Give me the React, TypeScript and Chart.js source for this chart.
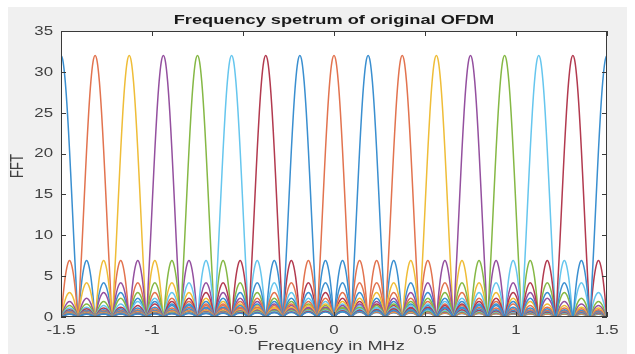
import React, { useEffect, useRef } from "react";
import { Chart, registerables } from "chart.js";

Chart.register(...registerables);

// Subcarrier centre frequencies (MHz)
const subcarrierCenters = [
  -1.5, -1.3125, -1.125, -0.9375, -0.75, -0.5625, -0.375, -0.1875, 0,
  0.1875, 0.375, 0.5625, 0.75, 0.9375, 1.125, 1.3125, 1.5,
];
// Colour of each subcarrier curve as seen in the picture
const subcarrierColors = [
  "#3a8fd0", "#e2734f", "#efbd38", "#94509f", "#85b845", "#66c6ee", "#b23a4f",
  "#3a8fd0", "#e2734f", "#3a8fd0", "#e2734f", "#efbd38", "#94509f", "#85b845",
  "#66c6ee", "#b23a4f", "#3a8fd0",
];
const nullSpacing = 0.09375; // MHz between successive zeros of one curve
// Main lobe magnitude, from the peak to the first zero, in eighths of a null spacing
const mainLobeHalf = [32, 31.2, 28.8, 25.1, 20.4, 15.1, 9.6, 4.5, 0];
// Height of successive side lobes (1st, 2nd, ...)
const sidelobePeaks = [
  6.9, 4.2, 3.0, 2.3, 1.9, 1.6, 1.4, 1.2, 1.1, 1.0, 0.9, 0.82, 0.76, 0.71, 0.66,
  0.62, 0.58, 0.55, 0.52, 0.5, 0.47, 0.45, 0.43, 0.42, 0.4, 0.38, 0.37, 0.36,
  0.35, 0.34, 0.33, 0.32,
];
// Shape of one side lobe, fraction of its height, in eighths of a null spacing
const lobeShape = [0, 0.38, 0.71, 0.92, 1, 0.92, 0.71, 0.38];

const xTicks = [-1.5, -1, -0.5, 0, 0.5, 1, 1.5];
const xTickLabels = ["-1.5", "-1", "-0.5", "0", "0.5", "1", "1.5"];
const yTicks = [0, 5, 10, 15, 20, 25, 30, 35];
const yTickLabels = ["0", "5", "10", "15", "20", "25", "30", "35"];

const titleText = "Frequency spetrum of original OFDM";
const xLabelText = "Frequency in MHz";
const yLabelText = "FFT";

function buildProfile(): { o: number; v: number }[] {
  const half: { o: number; v: number }[] = [];
  mainLobeHalf.forEach((v, j) => half.push({ o: j / 8, v }));
  sidelobePeaks.forEach((p, k) => {
    lobeShape.forEach((s, j) => {
      if (j === 0) return;
      half.push({ o: 1 + k + j / 8, v: p * s });
    });
    half.push({ o: 2 + k, v: 0 });
  });
  const full: { o: number; v: number }[] = [];
  for (let i = half.length - 1; i > 0; i--) full.push({ o: -half[i].o, v: half[i].v });
  half.forEach((p) => full.push(p));
  return full;
}

const STRETCH = 1.4;
const FONT = "'Liberation Sans', Arial, Helvetica, sans-serif";

const matlabPlugin = {
  id: "matlabAxes",
  beforeDraw(chart: any) {
    const { ctx, chartArea } = chart;
    ctx.save();
    ctx.fillStyle = "#ffffff";
    ctx.fillRect(0, 0, chart.width, chart.height);
    ctx.fillStyle = "#f0f0f0";
    ctx.fillRect(8, 7, 619, 347);
    ctx.fillStyle = "#ffffff";
    ctx.fillRect(chartArea.left, chartArea.top, chartArea.right - chartArea.left, chartArea.bottom - chartArea.top);
    ctx.restore();
  },
  afterDraw(chart: any) {
    const { ctx, chartArea, scales } = chart;
    const xs = scales.x;
    const ys = scales.y;
    const { left, right, top, bottom } = chartArea;
    ctx.save();
    ctx.strokeStyle = "#3a3a3a";
    ctx.lineWidth = 1;
    ctx.strokeRect(left + 0.5, top + 0.5, right - left - 1, bottom - top - 1);
    const tl = 5;
    ctx.beginPath();
    xTicks.forEach((t) => {
      const px = Math.round(xs.getPixelForValue(t)) + 0.5;
      ctx.moveTo(px, bottom);
      ctx.lineTo(px, bottom - tl);
      ctx.moveTo(px, top);
      ctx.lineTo(px, top + tl);
    });
    yTicks.forEach((t) => {
      const py = Math.round(ys.getPixelForValue(t)) + 0.5;
      ctx.moveTo(left, py);
      ctx.lineTo(left + tl, py);
      ctx.moveTo(right, py);
      ctx.lineTo(right - tl, py);
    });
    ctx.stroke();

    const drawText = (text: string, x: number, y: number, font: string, align: CanvasTextAlign, baseline: CanvasTextBaseline, color: string) => {
      ctx.save();
      ctx.translate(x, y);
      ctx.scale(STRETCH, 1);
      ctx.font = font;
      ctx.textAlign = align;
      ctx.textBaseline = baseline;
      ctx.fillStyle = color;
      ctx.fillText(text, 0, 0);
      ctx.restore();
    };

    xTicks.forEach((t, i) => {
      drawText(xTickLabels[i], xs.getPixelForValue(t), 334, `12px ${FONT}`, "center", "alphabetic", "#404040");
    });
    yTicks.forEach((t, i) => {
      drawText(yTickLabels[i], left - 8, ys.getPixelForValue(t) + 0.5, `12px ${FONT}`, "right", "middle", "#404040");
    });
    drawText(titleText, (left + right) / 2, 24, `bold 13px ${FONT}`, "center", "alphabetic", "#1a1a1a");
    drawText(xLabelText, (left + right) / 2 - 3, 350, `13px ${FONT}`, "center", "alphabetic", "#404040");

    ctx.save();
    ctx.translate(18, (top + bottom) / 2 - 8);
    ctx.scale(STRETCH, 1);
    ctx.rotate(-Math.PI / 2);
    ctx.font = `13px ${FONT}`;
    ctx.textAlign = "center";
    ctx.textBaseline = "middle";
    ctx.fillStyle = "#404040";
    ctx.fillText(yLabelText, 0, 0);
    ctx.restore();

    ctx.restore();
  },
};

export default function App() {
  const canvasRef = useRef<HTMLCanvasElement | null>(null);

  useEffect(() => {
    if (!canvasRef.current) return;
    const profile = buildProfile();
    const datasets = subcarrierCenters.map((c, i) => ({
      label: `Subcarrier ${i + 1}`,
      data: profile
        .map((p) => ({ x: c + p.o * nullSpacing, y: p.v }))
        .filter((p) => p.x >= -1.6 && p.x <= 1.6),
      borderColor: subcarrierColors[i],
      borderWidth: 1.5,
      pointRadius: 0,
      fill: false,
      tension: 0.3,
      order: subcarrierCenters.length - i,
    }));

    const chart = new Chart(canvasRef.current, {
      type: "line",
      data: { datasets },
      options: {
        animation: false,
        responsive: false,
        devicePixelRatio: 1,
        parsing: false as any,
        layout: { padding: { left: 61, top: 31, right: 28, bottom: 37 } },
        plugins: { legend: { display: false }, tooltip: { enabled: false }, title: { display: false } },
        scales: {
          x: { type: "linear", min: -1.5, max: 1.5, display: false },
          y: { type: "linear", min: 0, max: 35, display: false },
        },
      },
      plugins: [matlabPlugin],
    });
    return () => chart.destroy();
  }, []);

  return (
    <div style={{ position: "fixed", left: 0, top: 0, width: 635, height: 354, background: "#ffffff" }}>
      <canvas ref={canvasRef} width={635} height={354} style={{ width: 635, height: 354, display: "block" }} />
    </div>
  );
}
